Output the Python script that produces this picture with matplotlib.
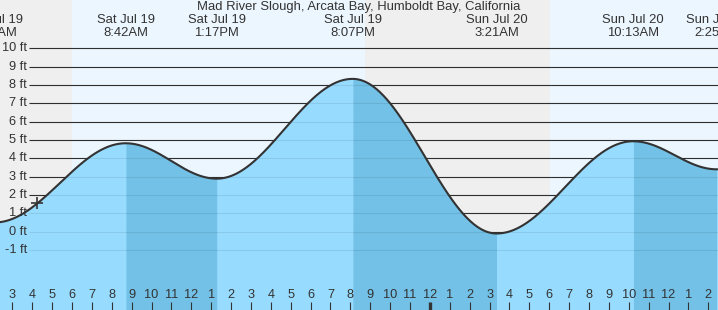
import numpy as np
import matplotlib
matplotlib.use('Agg')
import matplotlib.pyplot as plt

plt.rcParams['font.family'] = ['Liberation Sans', 'DejaVu Sans']

# tide extremes, hours since Sat Jul 19 00:00
event_hours = [2.1, 8.7, 13.283, 20.117, 27.35, 34.217, 38.417]
event_heights = [0.5, 4.82, 2.89, 8.33, -0.1, 4.93, 3.4]
event_labels = ['Sat Jul 19\n2:06AM', 'Sat Jul 19\n8:42AM', 'Sat Jul 19\n1:17PM',
                'Sat Jul 19\n8:07PM', 'Sun Jul 20\n3:21AM', 'Sun Jul 20\n10:13AM',
                'Sun Jul 20\n2:25PM']

# sunrise / sunset (hours)
night_spans = [(0.0, 6.0), (20.74, 30.04)]

hour_ticks = list(range(3, 39))
ft_levels = list(range(-1, 11))
now_hour = 4.26

title = 'Mad River Slough, Arcata Bay, Humboldt Bay, California'

x0, x1 = 2.381, 38.486
y0, y1 = -4.27, 12.63

# cosine interpolation between highs and lows
t = np.linspace(x0 - 0.5, x1 + 0.5, 2000)
h = np.zeros_like(t)
for i in range(len(event_hours) - 1):
    ta, tb = event_hours[i], event_hours[i + 1]
    ha, hb = event_heights[i], event_heights[i + 1]
    m = (t >= ta) & (t <= tb)
    h[m] = (ha + hb) / 2 + (ha - hb) / 2 * np.cos(np.pi * (t[m] - ta) / (tb - ta))
h[t < event_hours[0]] = event_heights[0]
h[t > event_hours[-1]] = event_heights[-1]

fig = plt.figure(figsize=(7.18, 3.10), dpi=100)
ax = fig.add_axes([0, 0, 1, 1])
ax.set_xlim(x0, x1)
ax.set_ylim(y0, y1)
ax.axis('off')

# day / night background
ax.axvspan(x0, x1, color='#ecf6ff', zorder=0, lw=0)
for a, b in night_spans:
    ax.axvspan(a, b, color='#efefef', zorder=0.5, lw=0)

grid_start = x0 + 29 / 718 * (x1 - x0)
ax.hlines(ft_levels, grid_start, x1, color='#333333', lw=0.8, zorder=1)
for lv in ft_levels:
    ax.text(x0 + 27 / 718 * (x1 - x0), lv, f'{lv} ft', ha='right', va='center',
            fontsize=9.2, color='#333333', zorder=6)

# water
ax.fill_between(t, h, y0, color='#97dbff', lw=0, zorder=2)
for i in range(len(event_heights) - 1):
    if event_heights[i] > event_heights[i + 1]:
        m = (t >= event_hours[i]) & (t <= event_hours[i + 1])
        ax.fill_between(t[m], h[m], y0, color='#73c1e6', lw=0, zorder=2)

ax.hlines(ft_levels, grid_start, x1, color='black', alpha=0.08, lw=0.8, zorder=3)
ax.plot(t, h, color='#333333', lw=1.5, zorder=4)
ax.plot([now_hour], [np.interp(now_hour, t, h)], marker='+', ms=9, mew=1.2,
        color='#333333', zorder=5)

# labels
tr = ax.get_xaxis_transform()
ax.text(0.5, 1 - 7 / 310, title, transform=ax.transAxes, ha='center', va='center',
        fontsize=9.4, color='#333333')
for eh, lab in zip(event_hours, event_labels):
    ax.text(eh, 1 - 26.5 / 310, lab, transform=tr, ha='center', va='center',
            fontsize=9.4, color='#333333', linespacing=1.12)

for hr in hour_ticks:
    lab = str((hr - 1) % 12 + 1)
    ax.text(hr, 14.5 / 310, lab, transform=tr, ha='center', va='center',
            fontsize=9.2, color='#333333', zorder=6)
    ax.vlines(hr, 0, 8 / 310, transform=tr, color='#333333',
              lw=2.4 if hr % 24 == 0 else 0.8, zorder=6)

fig.savefig('out.png', dpi=100)
